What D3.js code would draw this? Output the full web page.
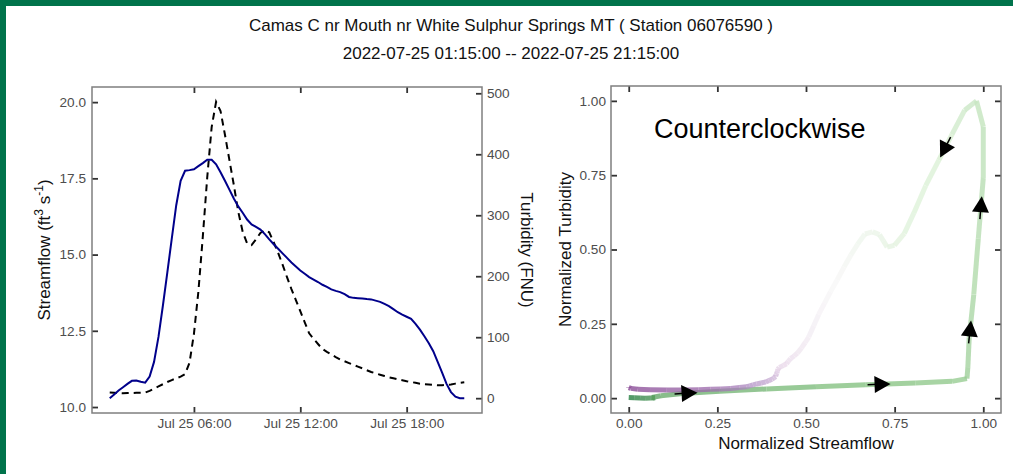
<!DOCTYPE html>
<html>
<head>
<meta charset="utf-8">
<script src="https://cdn.jsdelivr.net/npm/d3@7"></script>
<style>
  body { margin: 0; background: #fff; }
  svg text { font-family: "Liberation Sans", Arial, sans-serif; }
</style>
</head>
<body>
<svg id="chart" width="1013" height="474"></svg>
<script>
// 15-minute samples, 2022-07-25
const times = [
  "01:15","01:30","01:45","02:00","02:15","02:30","02:45","03:00","03:15","03:30",
  "03:45","04:00","04:15","04:30","04:45","05:00","05:15","05:30","05:45","06:00",
  "06:15","06:30","06:45","07:00","07:15","07:30","07:45","08:00","08:15","08:30",
  "08:45","09:00","09:15","09:30","09:45","10:00","10:15","10:30","10:45","11:00",
  "11:15","11:30","11:45","12:00","12:15","12:30","12:45","13:00","13:15","13:30",
  "13:45","14:00","14:15","14:30","14:45","15:00","15:15","15:30","15:45","16:00",
  "16:15","16:30","16:45","17:00","17:15","17:30","17:45","18:00","18:15","18:30",
  "18:45","19:00","19:15","19:30","19:45","20:00","20:15","20:30","20:45","21:00",
  "21:15"
];

const streamflow = [
  10.29, 10.41, 10.54, 10.65, 10.76, 10.86, 10.87, 10.83, 10.80, 11.00,
  11.48, 12.30, 13.33, 14.42, 15.52, 16.61, 17.42, 17.75, 17.77, 17.80,
  17.90, 18.00, 18.11, 18.11, 17.96, 17.70, 17.42, 17.13, 16.84, 16.58,
  16.37, 16.15, 15.99, 15.91, 15.82, 15.67, 15.50, 15.34, 15.19, 15.04,
  14.89, 14.74, 14.61, 14.48, 14.37, 14.26, 14.18, 14.10, 14.01, 13.94,
  13.86, 13.81, 13.77, 13.70, 13.61, 13.58, 13.57, 13.56, 13.54, 13.53,
  13.49, 13.45, 13.38, 13.31, 13.21, 13.11, 13.03, 12.96, 12.89, 12.73,
  12.54, 12.32, 12.09, 11.83, 11.48, 11.13, 10.76, 10.49, 10.34, 10.29,
  10.29
];

const turbidity = [
  9.3, 8.9, 8.5, 8.2, 8.4, 8.6, 8.8, 9.0, 9.3, 12.0,
  15.6, 19.2, 22.9, 26.5, 29.7, 32.5, 35.2, 39.5, 58.0, 105.5,
  174.5, 264.5, 362.0, 444.6, 486.0, 471.0, 432.0, 390.7, 349.6, 305.9,
  273.0, 253.8, 251.0, 260.5, 271.0, 275.5, 272.0, 255.7, 238.3, 218.9,
  198.5, 179.0, 161.0, 142.7, 124.5, 106.3, 97.2, 88.9, 80.6, 76.0,
  71.8, 67.5, 63.5, 60.6, 57.6, 54.7, 51.8, 48.9, 45.9, 43.0,
  40.6, 38.5, 36.3, 34.2, 32.6, 31.0, 29.4, 27.8, 26.5, 25.2,
  23.8, 22.8, 22.3, 21.8, 21.3, 21.2, 21.8, 22.5, 23.9, 25.2,
  26.0
];

const qTicks = [10, 12.5, 15, 17.5, 20];
const turbTicks = [0, 100, 200, 300, 400, 500];
const timeTicks = ["2022-07-25 06:00", "2022-07-25 12:00", "2022-07-25 18:00"];
const normTicks = [0, 0.25, 0.5, 0.75, 1];
// fractional sample index where each direction arrow points
const arrowIdx = [10.4, 14.5, 19.4, 21.7, 26.9];
const turbPerQ = 50; // secondary axis: FNU per ft3/s above minimum flow
const palette = ["#1B7837", "#7FBF7B", "#D9F0D3", "#F7F7F7", "#E7D4E8", "#AF8DC3", "#762A83"];

const title1 = "Camas C nr Mouth nr White Sulphur Springs MT ( Station 06076590 )";
const title2 = "2022-07-25 01:15:00 -- 2022-07-25 21:15:00";

const width = 1013, height = 474;
const svg = d3.select("#chart");
const parse = d3.timeParse("%Y-%m-%d %H:%M");

const data = times.map((t, i) => ({
  date: parse("2022-07-25 " + t),
  q: streamflow[i],
  t: turbidity[i]
}));

// frame
svg.append("rect").attr("x", 0).attr("y", 0).attr("width", width).attr("height", 6).attr("fill", "#00734b");
svg.append("rect").attr("x", 0).attr("y", 0).attr("width", 6).attr("height", height).attr("fill", "#00734b");

svg.append("text").attr("x", 511).attr("y", 31).attr("text-anchor", "middle")
  .attr("font-size", 17).attr("fill", "#111").text(title1);
svg.append("text").attr("x", 511).attr("y", 59).attr("text-anchor", "middle")
  .attr("font-size", 17).attr("fill", "#111").text(title2);

// ggplot-style 5% padding on each side
const expand = ([a, b]) => { a = +a; b = +b; const p = (b - a) * 0.05; return [a - p, b + p]; };

const styleAxis = (g) => {
  g.select(".domain").remove();
  g.selectAll(".tick line").attr("stroke", "#333").attr("stroke-width", 1.8);
  g.selectAll(".tick text").attr("fill", "#4d4d4d").attr("font-size", 13.6)
    .attr("font-family", "Liberation Sans, Arial, sans-serif");
};

// ---------- left panel: time series ----------
const L = { left: 92, right: 482, top: 87, bottom: 413 };
const qMin = d3.min(streamflow);
const turbToQ = (t) => qMin + t / turbPerQ;

const x = d3.scaleTime()
  .domain(expand(d3.extent(data, d => d.date)).map(v => new Date(v)))
  .range([L.left, L.right]);

const yExtent = d3.extent(data.flatMap(d => [d.q, turbToQ(d.t)]));
const y = d3.scaleLinear().domain(expand(yExtent)).range([L.bottom, L.top]);
const yT = d3.scaleLinear()
  .domain(y.domain().map(v => (v - qMin) * turbPerQ))
  .range([L.bottom, L.top]);

const tickDates = timeTicks.map(parse);

svg.append("g").attr("transform", `translate(0,${L.bottom})`)
  .call(d3.axisBottom(x).tickValues(tickDates).tickFormat(d3.timeFormat("%b %d %H:%M"))
    .tickSizeInner(-6).tickSizeOuter(0).tickPadding(5))
  .call(styleAxis);
svg.append("g").attr("transform", `translate(0,${L.top})`)
  .call(d3.axisTop(x).tickValues(tickDates).tickFormat("").tickSizeInner(-6).tickSizeOuter(0))
  .call(styleAxis);
svg.append("g").attr("transform", `translate(${L.left},0)`)
  .call(d3.axisLeft(y).tickValues(qTicks).tickFormat(d3.format(".1f"))
    .tickSizeInner(-6).tickSizeOuter(0).tickPadding(6))
  .call(styleAxis);
svg.append("g").attr("transform", `translate(${L.right},0)`)
  .call(d3.axisRight(yT).tickValues(turbTicks).tickSizeInner(-6).tickSizeOuter(0).tickPadding(5))
  .call(styleAxis);

svg.append("rect").attr("x", L.left).attr("y", L.top)
  .attr("width", L.right - L.left).attr("height", L.bottom - L.top)
  .attr("fill", "none").attr("stroke", "#7f7f7f").attr("stroke-width", 1.5);

svg.append("path").datum(data)
  .attr("fill", "none").attr("stroke", "#000").attr("stroke-width", 2)
  .attr("stroke-dasharray", "7,5")
  .attr("d", d3.line().x(d => x(d.date)).y(d => yT(d.t)));

svg.append("path").datum(data)
  .attr("fill", "none").attr("stroke", "#00008b").attr("stroke-width", 2)
  .attr("d", d3.line().x(d => x(d.date)).y(d => y(d.q)));

const qTitle = svg.append("text")
  .attr("transform", `translate(50,${(L.top + L.bottom) / 2}) rotate(-90)`)
  .attr("text-anchor", "middle").attr("font-size", 17).attr("fill", "#111");
qTitle.append("tspan").text("Streamflow (ft");
qTitle.append("tspan").attr("baseline-shift", "super").attr("font-size", 12).text("3");
qTitle.append("tspan").text(" s");
qTitle.append("tspan").attr("baseline-shift", "super").attr("font-size", 12).text("-1");
qTitle.append("tspan").text(")");

svg.append("text")
  .attr("transform", `translate(521,${(L.top + L.bottom) / 2}) rotate(90)`)
  .attr("text-anchor", "middle").attr("font-size", 17).attr("fill", "#111")
  .text("Turbidity (FNU)");

// ---------- right panel: hysteresis ----------
const R = { left: 611, right: 1001, top: 86, bottom: 413 };
const qExt = d3.extent(streamflow), tExt = d3.extent(turbidity);
const norm = data.map((d, i) => ({
  i,
  qn: (d.q - qExt[0]) / (qExt[1] - qExt[0]),
  tn: (d.t - tExt[0]) / (tExt[1] - tExt[0])
}));

const xn = d3.scaleLinear().domain(expand([0, 1])).range([R.left, R.right]);
const yn = d3.scaleLinear().domain(expand([0, 1])).range([R.bottom, R.top]);

svg.append("g").attr("transform", `translate(0,${R.bottom})`)
  .call(d3.axisBottom(xn).tickValues(normTicks).tickFormat(d3.format(".2f"))
    .tickSizeInner(-6).tickSizeOuter(0).tickPadding(5))
  .call(styleAxis);
svg.append("g").attr("transform", `translate(0,${R.top})`)
  .call(d3.axisTop(xn).tickValues(normTicks).tickFormat("").tickSizeInner(-6).tickSizeOuter(0))
  .call(styleAxis);
svg.append("g").attr("transform", `translate(${R.left},0)`)
  .call(d3.axisLeft(yn).tickValues(normTicks).tickFormat(d3.format(".2f"))
    .tickSizeInner(-6).tickSizeOuter(0).tickPadding(5))
  .call(styleAxis);
svg.append("g").attr("transform", `translate(${R.right},0)`)
  .call(d3.axisRight(yn).tickValues(normTicks).tickFormat("").tickSizeInner(-6).tickSizeOuter(0))
  .call(styleAxis);

svg.append("rect").attr("x", R.left).attr("y", R.top)
  .attr("width", R.right - R.left).attr("height", R.bottom - R.top)
  .attr("fill", "none").attr("stroke", "#7f7f7f").attr("stroke-width", 1.5);

const color = d3.scaleLinear()
  .domain(palette.map((c, k) => k / (palette.length - 1) * (data.length - 1)))
  .range(palette)
  .interpolate(d3.interpolateLab);

svg.append("g").selectAll("line")
  .data(d3.pairs(norm))
  .join("line")
  .attr("x1", ([a]) => xn(a.qn)).attr("y1", ([a]) => yn(a.tn))
  .attr("x2", ([, b]) => xn(b.qn)).attr("y2", ([, b]) => yn(b.tn))
  .attr("stroke", ([a]) => color(a.i))
  .attr("stroke-opacity", 0.75)
  .attr("stroke-width", 5)
  .attr("stroke-linecap", "butt");

// direction arrows
const arrows = arrowIdx.map(f => {
  const a = norm[Math.floor(f)], b = norm[Math.ceil(f)], w = f - Math.floor(f);
  const px = xn(a.qn + (b.qn - a.qn) * w), py = yn(a.tn + (b.tn - a.tn) * w);
  const ang = Math.atan2(yn(b.tn) - yn(a.tn), xn(b.qn) - xn(a.qn)) * 180 / Math.PI;
  return { px, py, ang };
});
const ag = svg.append("g").selectAll("g").data(arrows).join("g")
  .attr("transform", d => `translate(${d.px},${d.py}) rotate(${d.ang})`);
ag.append("line").attr("x1", -23).attr("x2", -12).attr("y1", 0).attr("y2", 0)
  .attr("stroke", "#000").attr("stroke-width", 1.5);
ag.append("path").attr("d", "M0,0 L-16,-8.5 L-16,8.5 Z").attr("fill", "#000");

svg.append("text")
  .attr("x", (R.left + R.right) / 2).attr("y", 449)
  .attr("text-anchor", "middle").attr("font-size", 17).attr("fill", "#111")
  .text("Normalized Streamflow");
svg.append("text")
  .attr("transform", `translate(571,${(R.top + R.bottom) / 2}) rotate(-90)`)
  .attr("text-anchor", "middle").attr("font-size", 17).attr("fill", "#111")
  .text("Normalized Turbidity");

svg.append("text").attr("x", 654).attr("y", 138)
  .attr("font-family", "Lato, sans-serif").attr("font-size", 27).attr("fill", "#000")
  .text("Counterclockwise");
</script>
</body>
</html>
